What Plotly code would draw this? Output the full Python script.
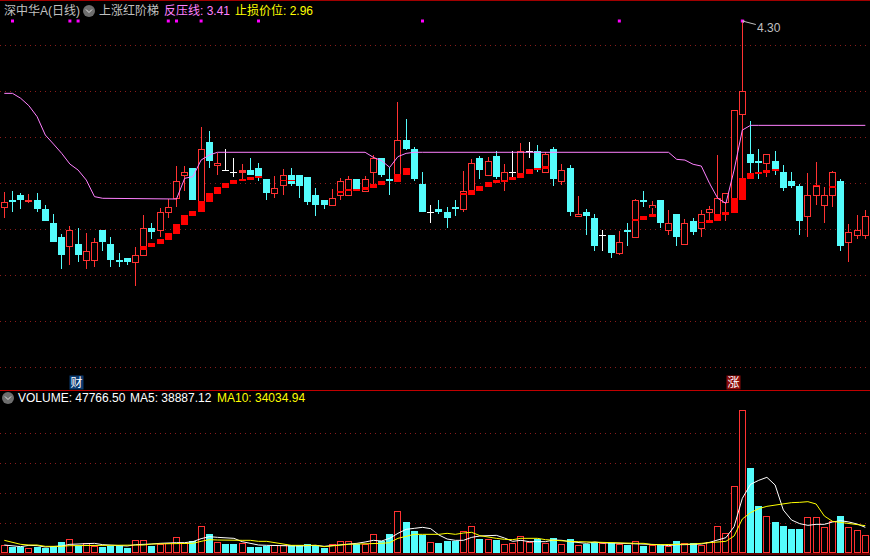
import plotly.graph_objects as go

kinds = ["r","c","c","r","c","c","c","c","r","c","r","r","c","c","c","c","r","r","c","r",
         "r","r","r","c","r","c","r","w","w","r","c","c","c","r","r","c","c","c","c","c",
         "r","r","r","c","r","r","c","c","r","c","c","c","w","c","c","c","r","r","c","r",
         "c","r","w","r","w","c","r","c","r","c","r","c","c","w","c","r","c","r","c","r",
         "c","r","c","r","c","r","r","r","r","r","r","c","c","r","c","c","c","c","r","r",
         "r","r","c","r","r","r"]
high = [2.849,2.855,2.838,2.830,2.838,2.736,2.659,2.487,2.557,2.541,2.498,2.455,2.523,2.464,2.328,2.285,2.379,2.651,2.580,2.708,
        2.787,3.067,3.067,3.053,3.399,3.365,3.178,3.212,3.136,3.085,3.136,3.093,2.957,2.982,3.042,3.050,2.991,2.974,2.880,2.779,
        2.872,2.966,2.982,2.957,2.982,3.161,3.136,3.059,3.611,3.467,3.229,3.016,2.736,2.779,2.719,2.779,3.025,3.127,3.153,3.144,
        3.195,3.085,3.195,3.263,3.271,3.246,3.186,3.229,3.085,3.076,2.812,2.702,2.659,2.523,2.481,2.515,2.583,2.787,2.855,2.770,
        2.779,2.693,2.659,2.617,2.625,2.693,2.727,3.161,2.838,3.543,4.300,3.450,3.212,3.170,3.195,3.076,3.016,2.915,3.008,3.101,
        2.889,3.025,2.957,2.575,2.651,2.693]
body_top = [2.759,2.779,2.821,2.779,2.779,2.702,2.583,2.464,2.521,2.404,2.342,2.419,2.523,2.404,2.268,2.285,2.308,2.538,2.541,2.674,
            2.716,2.937,3.014,3.053,3.209,3.271,3.093,3.031,3.014,3.031,3.031,3.050,2.957,2.878,2.988,2.991,2.991,2.974,2.821,2.779,
            2.795,2.940,2.957,2.957,2.957,3.136,3.136,2.957,3.288,3.288,3.212,2.915,2.674,2.702,2.676,2.719,2.855,3.093,3.136,3.110,
            3.153,3.016,3.014,3.195,3.192,3.195,3.169,3.212,3.034,3.050,2.659,2.676,2.625,2.478,2.481,2.421,2.523,2.779,2.779,2.736,
            2.779,2.583,2.659,2.583,2.600,2.659,2.702,2.795,2.838,3.543,3.705,3.170,3.110,3.170,3.110,3.016,2.940,2.898,2.821,2.898,
            2.821,3.016,2.940,2.506,2.523,2.642]
body_bot = [2.713,2.761,2.779,2.759,2.702,2.600,2.424,2.311,2.382,2.311,2.263,2.263,2.421,2.268,2.251,2.251,2.246,2.305,2.506,2.518,
            2.671,2.787,2.985,2.779,2.761,3.110,3.070,3.031,3.014,3.011,2.991,2.968,2.838,2.830,2.895,2.915,2.898,2.761,2.736,2.736,
            2.727,2.815,2.815,2.855,2.847,3.008,2.991,2.940,2.932,3.212,2.957,2.676,2.674,2.676,2.625,2.702,2.693,2.821,3.034,2.982,
            2.974,2.932,3.014,2.965,3.192,3.034,3.008,2.957,2.932,2.676,2.634,2.642,2.387,2.478,2.328,2.319,2.506,2.455,2.761,2.710,
            2.583,2.515,2.464,2.396,2.506,2.532,2.668,2.600,2.750,2.668,3.501,3.093,3.093,3.085,3.042,2.880,2.898,2.600,2.634,2.813,
            2.727,2.813,2.387,2.413,2.472,2.472]
low = [2.628,2.676,2.702,2.756,2.679,2.600,2.424,2.195,2.229,2.251,2.192,2.212,2.345,2.206,2.206,2.226,2.048,2.305,2.447,2.464,
       2.625,2.719,2.855,2.779,2.676,3.050,2.991,3.025,2.977,2.937,2.991,2.943,2.779,2.796,2.821,2.900,2.796,2.736,2.642,2.702,
       2.727,2.779,2.812,2.855,2.847,2.915,2.974,2.821,2.932,3.203,2.940,2.676,2.583,2.659,2.540,2.642,2.676,2.821,2.957,2.982,
       2.957,2.855,2.965,2.965,3.136,3.016,3.008,2.898,2.906,2.642,2.634,2.481,2.345,2.345,2.285,2.311,2.387,2.455,2.719,2.634,
       2.540,2.481,2.387,2.396,2.481,2.464,2.583,2.600,2.600,2.668,2.965,3.008,2.957,2.974,2.991,2.855,2.880,2.481,2.464,2.736,
       2.583,2.719,2.345,2.251,2.447,2.447]

resist = [3.685,3.685,3.643,3.580,3.487,3.331,3.254,3.175,3.084,3.033,2.948,2.807,2.793,2.793,2.793,2.793,2.793,2.793,2.793,2.793,
          2.793,2.787,2.963,2.977,3.118,3.161,3.184,3.184,3.184,3.184,3.184,3.184,3.184,3.184,3.184,3.184,3.184,3.184,3.184,3.184,
          3.184,3.184,3.184,3.184,3.184,3.141,3.113,3.056,3.147,3.175,3.184,3.184,3.184,3.184,3.184,3.184,3.184,3.184,3.184,3.184,
          3.184,3.184,3.184,3.184,3.184,3.184,3.184,3.184,3.184,3.184,3.184,3.184,3.184,3.184,3.184,3.184,3.184,3.184,3.184,3.184,
          3.184,3.184,3.124,3.118,3.082,3.067,2.920,2.793,2.750,3.033,3.373,3.413,3.413,3.413,3.413,3.413,3.413,3.413,3.413,3.413,
          3.413,3.413,3.413,3.413,3.413,3.413]

ladder_idx = [17,18,19,20,21,22,23,24,25,26,27,28,29,30,31,34,35,41,42,43,44,45,46,48,49,56,57,58,59,60,61,62,63,64,65,66,77,78,79,85,86,87,88,89,90,91,92,93,94,99,101]
ladder_low = [2.354,2.379,2.404,2.438,2.490,2.566,2.642,2.676,2.761,2.830,2.880,2.915,2.940,2.948,2.966,2.940,2.940,2.838,2.852,2.863,2.863,2.880,2.906,2.932,2.991,2.818,2.821,2.855,2.889,2.923,2.932,2.948,2.965,2.999,3.033,3.042,2.606,2.608,2.634,2.583,2.583,2.600,2.651,2.668,2.778,2.957,2.999,3.008,3.025,2.900,2.886]
ladder_high = [2.387,2.413,2.447,2.498,2.574,2.651,2.685,2.770,2.838,2.889,2.923,2.948,2.957,2.974,2.982,2.948,2.948,2.855,2.872,2.872,2.889,2.914,2.940,3.000,3.050,2.838,2.863,2.897,2.931,2.948,2.948,2.974,3.008,3.042,3.050,3.067,2.615,2.642,2.659,2.591,2.608,2.659,2.676,2.793,2.963,3.008,3.016,3.034,3.042,2.906,2.892]

signal_idx = [1,8,9,20,21,24,31,51,75,90]
signal_price = [4.30]*10

# volume, thousands
volume = [21.6,17.1,17.1,12.6,16.2,14.4,15.3,29.7,36.9,19.8,27.9,18.9,17.1,19.8,18,14.4,34.2,34.2,19.8,23.4,
          27.9,42.3,26.1,31.5,72,51.3,28.8,25.2,25.2,27,16.2,17.1,19.8,21.6,20.7,20.7,20.7,24.3,20.7,14.4,
          23.4,31.5,31.5,23.4,24.3,50.4,31.5,51.3,112.5,83.7,59.4,48.6,28.8,27,32.4,32.4,58.5,72,37.8,37.8,
          35.1,23.4,26.1,45,28.8,38.7,26.1,40.5,23.4,37.8,21.6,24.3,30.6,27,26.1,23.4,21.6,31.5,18.9,20.7,
          21.6,18,32.4,26.1,27,22.5,30.6,72,53.1,180,385.2,229.5,126.9,99,83.7,72.9,64.8,64.8,96.3,96.3,
          69.3,85.5,99.9,69.3,61.2,47.7]
vol_white_up = {52,62,64,73}
ma5 = [21.6,18.9,17.1,20.7,19.8,16.2,17.1,18.9,23.4,24.3,26.1,26.1,22.5,20.7,19.8,18.9,22.5,22.5,24.3,26.1,
       27.9,27.9,27.9,30.6,38.7,44.1,42.3,41.4,39.6,30.6,25.2,21.6,20.7,19.8,20.7,
       18.9,18.9,19.8,20.7,18,19.8,20.7,22.5,26.1,29.7,34.2,32.4,39.6,53.1,63.9,66.6,69.3,65.7,48.6,37.8,34.2,34.2,42.3,45.9,47.7,47.7,40.5,31.5,34.2,30.6,30.6,30.6,35.1,34.2,30.6,28.8,
       26.1,29.7,27,27,26.1,25.2,26.1,24.3,23.4,22.5,19.8,22.5,22.5,24.3,24.3,28.8,36,41.4,71.1,147.6,185.4,196.2,204.3,183.6,116.1,89.1,79.2,74.7,77.4,77.4,83.7,87.3,83.7,78.3,69.3]
ma10 = [34.2,27.9,23.4,21.6,21.6,18,17.1,18,19.8,19.8,21.6,21.6,21.6,21.6,21.6,20.7,20.7,21.6,24.3,24.3,
        26.1,26.1,26.1,26.1,31.5,36,35.1,34.2,34.2,34.2,34.2,31.5,31.5,27.9,25.2,
        20.7,20.7,20.7,20.7,17.1,19.8,20.7,23.4,24.3,24.3,26.1,26.1,27.9,39.6,45,50.4,50.4,50.4,50.4,53.1,50.4,54,55.8,46.8,42.3,39.6,36.9,36,39.6,39.6,39.6,36,34.2,31.5,31.5,30.6,
        29.7,28.8,27.9,27.9,27,26.1,26.1,26.1,22.5,22.5,22.5,22.5,23.4,24.3,26.1,27.9,28.8,31.5,45.9,91.8,108.9,119.7,126,129.6,134.1,135.9,136.8,138.6,132.3,99.9,85.5,82.8,80.1,76.5,73.8]

price_grid = [4.090,3.699,3.306,2.915,2.524,2.133,1.742,1.351]
volume_grid = [81,162,243,324]

CYAN = "#54fcfc"
RED = "#ff3232"
PINK = "#ff80ff"
YELLOW = "#ffff00"
GREY = "#c0c0c0"
BLACK = "#000000"

n = len(kinds)
xs = list(range(n))
KIND_COLOR = {"r": RED, "c": CYAN, "w": "#ffffff"}
FILLED_W = 0.85
INNER_W = 0.61
WICK_W = 0.01
PRICE_PX = 0.0085   # one screen pixel in price units
VOLUME_PX = 2.7     # one screen pixel in volume units


def quiet(**kw):
    return dict(showlegend=False, hoverinfo="skip", **kw)


def flat_bar(x, base, span, color, width, axes):
    return go.Bar(x=x, base=base, y=span, width=width, marker=dict(color=color, line=dict(width=0)),
                  **quiet(xaxis=axes[0], yaxis=axes[1]))


PRICE_AXES = ("x", "y")
VOLUME_AXES = ("x2", "y2")

fig = go.Figure()
# wicks: the thinnest bars, which the library widens to one pixel
fig.add_trace(flat_bar(xs, low, [h - l for h, l in zip(high, low)],
                       [KIND_COLOR[k] for k in kinds], WICK_W, PRICE_AXES))


def body_span(i):
    return max(body_top[i] - body_bot[i], 0.002)


for kind in ("c", "r", "w"):
    idx = [i for i in xs if kinds[i] == kind]
    fig.add_trace(flat_bar(idx, [body_bot[i] for i in idx], [body_span(i) for i in idx],
                           KIND_COLOR[kind], FILLED_W, PRICE_AXES))
# hollow red bodies: black core inside the red body
core = [i for i in xs if kinds[i] == "r" and body_span(i) > 2.5 * PRICE_PX]
fig.add_trace(flat_bar(core, [body_bot[i] + PRICE_PX for i in core],
                       [body_span(i) - 2 * PRICE_PX for i in core], BLACK, INNER_W, PRICE_AXES))
fig.add_trace(flat_bar(ladder_idx, ladder_low, [h - l for h, l in zip(ladder_high, ladder_low)],
                       "#ff0000", FILLED_W, PRICE_AXES))
fig.add_trace(go.Scatter(x=xs, y=resist, mode="lines", line=dict(color=PINK, width=1),
                         **quiet(xaxis="x", yaxis="y")))
fig.add_trace(go.Scatter(x=signal_idx, y=signal_price, mode="markers",
                         marker=dict(color="#ff00ff", size=3, symbol="square"),
                         **quiet(xaxis="x", yaxis="y")))

vol_up = [(kinds[i] == "r") or (i in vol_white_up) for i in xs]
up_i = [i for i in xs if vol_up[i]]
dn_i = [i for i in xs if not vol_up[i]]
fig.add_trace(flat_bar(dn_i, [0] * len(dn_i), [volume[i] for i in dn_i], CYAN, FILLED_W, VOLUME_AXES))
fig.add_trace(flat_bar(up_i, [0] * len(up_i), [volume[i] for i in up_i], RED, FILLED_W, VOLUME_AXES))
fig.add_trace(flat_bar(up_i, [VOLUME_PX] * len(up_i), [volume[i] - 2 * VOLUME_PX for i in up_i],
                       BLACK, INNER_W, VOLUME_AXES))
fig.add_trace(go.Scatter(x=xs, y=ma5, mode="lines", line=dict(color="#ffffff", width=1),
                         **quiet(xaxis="x2", yaxis="y2")))
fig.add_trace(go.Scatter(x=xs, y=ma10, mode="lines", line=dict(color=YELLOW, width=1),
                         **quiet(xaxis="x2", yaxis="y2")))

W, H = 870, 556
def px(v):
    return v / W
def py(v):
    return 1 - v / H

FONT = "Liberation Sans, Noto Sans CJK SC, sans-serif"


def label(x, y, text, color, size=12):
    return dict(x=px(x), y=py(y), xref="paper", yref="paper", text=text, showarrow=False,
                xanchor="left", yanchor="middle", font=dict(family=FONT, size=size, color=color))


def badge(x, text, bg):
    return dict(x=px(x), y=py(382.5), xref="paper", yref="paper", text=text, showarrow=False,
                xanchor="center", yanchor="middle", width=13, height=13, borderpad=0, bgcolor=bg,
                font=dict(family=FONT, size=12, color="#ffffff"))


annotations = [
    label(2, 11, "深中华A(日线)", GREY),
    label(97, 11, "上涨红阶梯", GREY),
    label(162, 11, "反压线: 3.41", PINK),
    label(233, 11, "止损价位: 2.96", YELLOW),
    label(16, 398, "VOLUME: 47766.50", "#ffffff"),
    label(128, 398, "MA5: 38887.12", "#ffffff"),
    label(215, 398, "MA10: 34034.94", YELLOW),
    dict(x=90, y=4.30, xref="x", yref="y", text="4.30", showarrow=True, ax=27, ay=7,
         arrowcolor=GREY, arrowwidth=1, arrowhead=1, arrowsize=0.6,
         font=dict(family=FONT, size=12, color=GREY)),
    badge(76.5, "财", "#0a3a70"),
    badge(733.5, "涨", "#8a0a0a"),
]


def hline(y, color):
    return dict(type="line", xref="paper", yref="paper", x0=0, x1=1, y0=py(y), y1=py(y),
                line=dict(color=color, width=1))


def icon(cx, cy):
    r = 6
    return [
        dict(type="circle", xref="paper", yref="paper", x0=px(cx - r), x1=px(cx + r),
             y0=py(cy + r), y1=py(cy - r), fillcolor="#6e6e6e", line=dict(width=0)),
        dict(type="path", xref="paper", yref="paper",
             path=f"M {px(cx-3)} {py(cy-1.5)} L {px(cx)} {py(cy+1.5)} L {px(cx+3)} {py(cy-1.5)}",
             line=dict(color="#e0e0e0", width=1)),
    ]


shapes = [hline(0.5, "#a00000"), hline(390.5, "#c00000"), hline(554, "#c00000")] + icon(89, 11) + icon(8, 398)

xr = [-0.524, 105.57]
axis_common = dict(showticklabels=False, ticks="", showline=False, zeroline=False)
fig.update_layout(
    width=W, height=H, autosize=False,
    margin=dict(l=0, r=0, t=0, b=0),
    paper_bgcolor=BLACK, plot_bgcolor=BLACK,
    barmode="overlay", bargap=0, showlegend=False,
    xaxis=dict(domain=[0, 1], range=xr, showgrid=False, anchor="y", **axis_common),
    xaxis2=dict(domain=[0, 1], range=xr, showgrid=False, anchor="y2", **axis_common),
    yaxis=dict(domain=[(H - 390) / H, 1], range=[1.1635, 4.4785], anchor="x", tickvals=price_grid,
               showgrid=True, gridcolor="#8a1c1c", griddash="1px,4px", gridwidth=1, **axis_common),
    yaxis2=dict(domain=[(H - 553) / H, (H - 391) / H], range=[0, 437.4], anchor="x2", tickvals=volume_grid,
                showgrid=True, gridcolor="#8a1c1c", griddash="1px,4px", gridwidth=1, **axis_common),
    annotations=annotations,
    shapes=shapes,
)

fig.write_html("out.html", config=dict(displayModeBar=False),
               post_script="document.body.style.margin='0';document.body.style.background='#000';")
